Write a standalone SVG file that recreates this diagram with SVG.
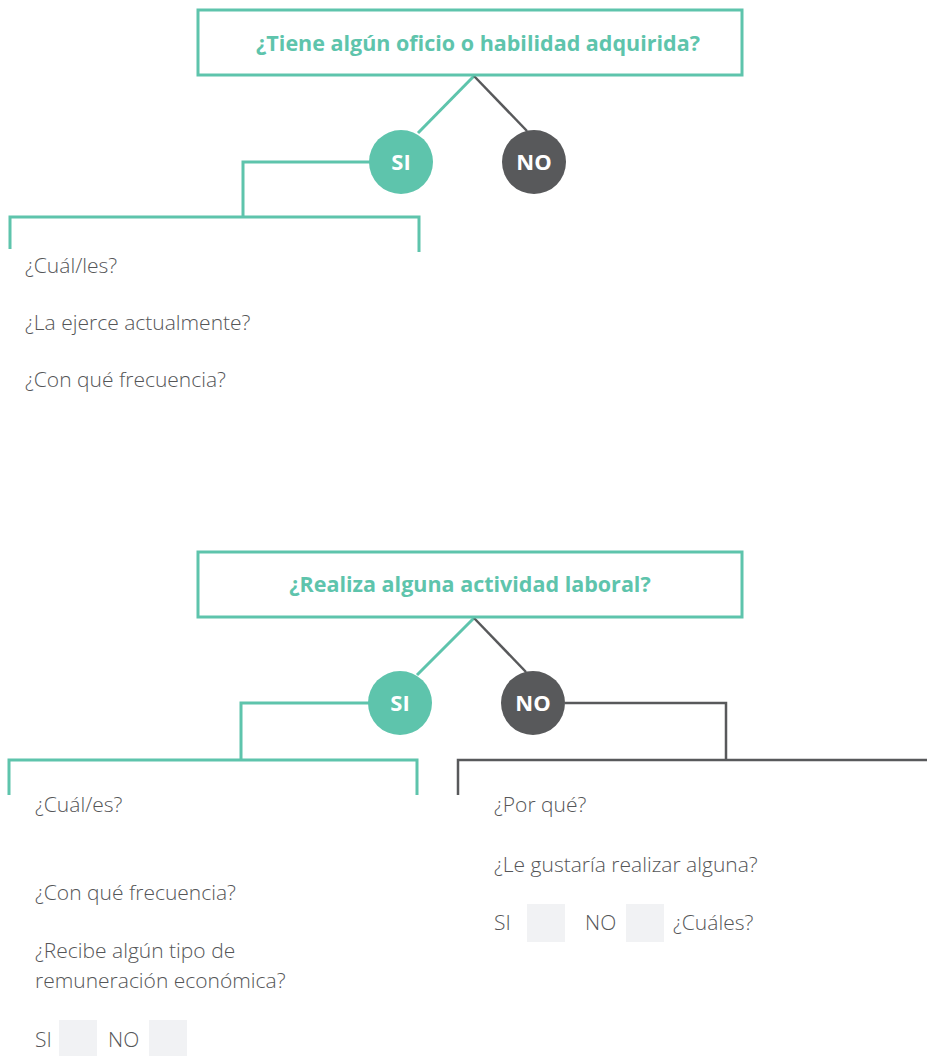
<svg xmlns="http://www.w3.org/2000/svg" width="927" height="1056" viewBox="0 0 927 1056">
  <defs>
    <style>
      .q-box { fill: #ffffff; stroke: #5ec4ac; stroke-width: 3; }
      .q-title { font-family: "Open Sans", "Liberation Sans", sans-serif; font-weight: 700; font-size: 21.5px; fill: #5ec4ac; text-anchor: middle; }
      .yes { fill: #5ec4ac; }
      .no { fill: #58595b; }
      .badge { font-family: "Open Sans", "Liberation Sans", sans-serif; font-weight: 700; font-size: 22px; fill: #ffffff; text-anchor: middle; }
      .link-yes { fill: none; stroke: #5ec4ac; stroke-width: 3; }
      .link-no { fill: none; stroke: #58595b; stroke-width: 2.5; }
      .item { font-family: "Open Sans", "Liberation Sans", sans-serif; font-weight: 300; font-size: 21px; fill: #555658; }
      .check { fill: #f1f2f4; }
    </style>
  </defs>

  <g id="connectors">
    <!-- block 1 -->
    <line class="link-yes" x1="474" y1="76" x2="418" y2="133"/>
    <line class="link-no" x1="474" y1="76" x2="527" y2="131"/>
    <polyline class="link-yes" points="370,162 243,162 243,217"/>
    <polyline class="link-yes" points="10,249 10,217 419,217 419,252"/>
    <!-- block 2 -->
    <line class="link-yes" x1="474" y1="618" x2="417" y2="675"/>
    <line class="link-no" x1="474" y1="618" x2="526" y2="672"/>
    <polyline class="link-yes" points="369,703 241,703 241,760"/>
    <polyline class="link-yes" points="9,795 9,760 417,760 417,795"/>
    <polyline class="link-no" points="565,703 726,703 726,760"/>
    <polyline class="link-no" points="458,795 458,760 927,760"/>
  </g>

  <g id="q-oficio">
    <rect class="q-box" x="198" y="10" width="544" height="65"/>
    <text class="q-title" x="478" y="51">¿Tiene algún oficio o habilidad adquirida?</text>
  </g>
  <g id="oficio-si">
    <circle class="yes" cx="401" cy="162" r="32"/>
    <text class="badge" x="401" y="170">SI</text>
  </g>
  <g id="oficio-no">
    <circle class="no" cx="534" cy="162" r="32"/>
    <text class="badge" x="534" y="170">NO</text>
  </g>
  <g id="oficio-si-items">
    <text class="item" x="25" y="273">¿Cuál/les?</text>
    <text class="item" x="25" y="330">¿La ejerce actualmente?</text>
    <text class="item" x="25" y="387">¿Con qué frecuencia?</text>
  </g>

  <g id="q-laboral">
    <rect class="q-box" x="198" y="552" width="544" height="65"/>
    <text class="q-title" x="470" y="592">¿Realiza alguna actividad laboral?</text>
  </g>
  <g id="laboral-si">
    <circle class="yes" cx="400" cy="703" r="32"/>
    <text class="badge" x="400" y="711">SI</text>
  </g>
  <g id="laboral-no">
    <circle class="no" cx="533" cy="703" r="32"/>
    <text class="badge" x="533" y="711">NO</text>
  </g>
  <g id="laboral-si-items">
    <text class="item" x="35" y="812">¿Cuál/es?</text>
    <text class="item" x="35" y="900">¿Con qué frecuencia?</text>
    <text class="item" x="35" y="958">¿Recibe algún tipo de</text>
    <text class="item" x="35" y="988">remuneración económica?</text>
    <text class="item" x="35" y="1047">SI</text>
    <rect class="check" x="59" y="1020" width="38" height="36"/>
    <text class="item" x="108" y="1047">NO</text>
    <rect class="check" x="149" y="1020" width="38" height="36"/>
  </g>
  <g id="laboral-no-items">
    <text class="item" x="494" y="812">¿Por qué?</text>
    <text class="item" x="494" y="872">¿Le gustaría realizar alguna?</text>
    <text class="item" x="494" y="930">SI</text>
    <rect class="check" x="527" y="904" width="38" height="38"/>
    <text class="item" x="585" y="930">NO</text>
    <rect class="check" x="626" y="904" width="38" height="38"/>
    <text class="item" x="673" y="930">¿Cuáles?</text>
  </g>
</svg>
